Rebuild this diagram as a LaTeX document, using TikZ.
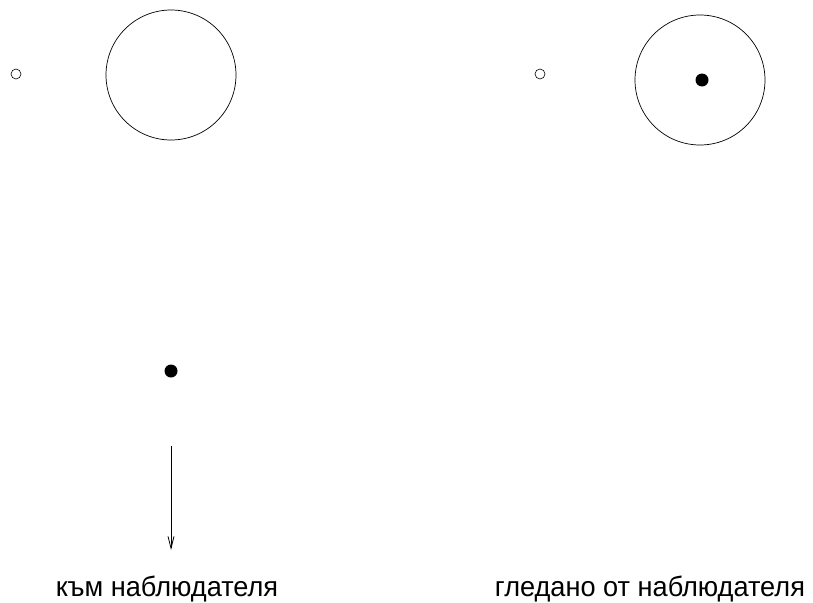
\documentclass[tikz,border=0pt]{standalone}
\usepackage{fontspec}
\setmainfont{Liberation Sans}
\newfontfamily\captionfont[FakeStretch=0.97]{Liberation Sans}
\usetikzlibrary{arrows.meta, positioning}

\begin{document}
\begin{tikzpicture}[x=1pt, y=-1pt]
\tikzset{
  planet/.style={circle, draw, line width=0.6pt, inner sep=0pt, minimum size=10pt},
  orbit/.style={circle, draw, line width=0.7pt, inner sep=0pt, minimum size=130pt},
  star/.style={circle, fill=black, inner sep=0pt, minimum size=13pt},
  caption/.style={font=\captionfont\fontsize{28}{30}\selectfont, inner sep=0pt, anchor=base}
}
\useasboundingbox (0,0) rectangle (813,602);
% Left: side view
\node[planet] (pL) at (16,74) {};
\node[orbit] (oL) at (171,75) {};
\node[star] (sL) at (171,371) {};
\coordinate (aS) at (171,446);
\coordinate (aE) at (171,550);
\draw[line width=0.8pt, -{Straight Barb[length=12pt, width=6pt]}] (aS) -- (aE);
\node[caption] (cL) at (167,596) {към наблюдателя};
% Right: view from the observer
\node[planet] (pR) at (540,74) {};
\node[orbit] (oR) at (700,80) {};
\node[star] (sR) at (702,80) {};
\node[caption] (cR) at (650,596) {гледано от наблюдателя};
\end{tikzpicture}
\end{document}
